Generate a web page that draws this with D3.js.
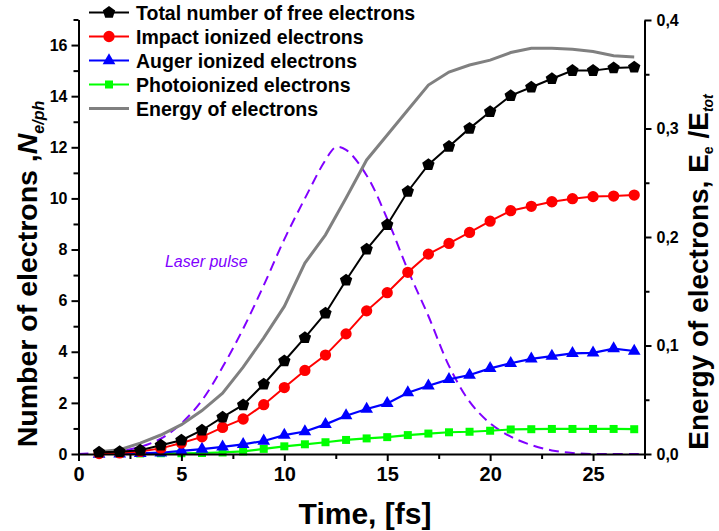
<!DOCTYPE html>
<html>
<head>
<meta charset="utf-8">
<script src="https://cdn.jsdelivr.net/npm/d3@7"></script>
<style>
  body { margin: 0; background: #fff; }
  text { font-family: "Liberation Sans", Arial, sans-serif; }
</style>
</head>
<body>
<svg id="chart" width="719" height="531"></svg>
<script>
// Time axis of the simulation, fs
const time = d3.range(1, 28);

// Electron counts per photon (left axis)
const totalElectrons  = [0.07,0.09,0.15,0.34,0.54,0.93,1.44,1.92,2.73,3.64,4.55,5.51,6.80,8.01,8.97,10.27,11.32,12.03,12.74,13.39,14.02,14.35,14.68,15.00,15.00,15.10,15.13];
const impactElectrons = [0.02,0.04,0.10,0.22,0.43,0.67,1.04,1.37,1.93,2.60,3.27,3.87,4.70,5.60,6.31,7.11,7.82,8.24,8.67,9.11,9.52,9.69,9.87,9.99,10.07,10.09,10.13];
const augerElectrons  = [0.00,0.01,0.03,0.05,0.12,0.19,0.28,0.38,0.51,0.74,0.88,1.16,1.50,1.76,1.98,2.40,2.67,2.92,3.09,3.35,3.55,3.72,3.83,3.94,3.96,4.12,4.03];
const photoElectrons  = [0.00,0.01,0.02,0.03,0.03,0.04,0.06,0.10,0.20,0.30,0.38,0.46,0.55,0.61,0.66,0.74,0.80,0.85,0.87,0.91,0.96,0.97,0.98,0.98,0.98,0.98,0.97];

// Relative electron energy E_e/E_tot (right axis)
const electronEnergy  = [0.002,0.004,0.010,0.0175,0.027,0.040,0.056,0.080,0.107,0.136,0.176,0.202,0.236,0.271,0.294,0.317,0.340,0.352,0.3585,0.363,0.370,0.374,0.374,0.373,0.371,0.367,0.366];

// Laser pulse envelope, drawn in left-axis units
const pulseTime  = [0,1,2,3,4,5,6,7,8,9,10,11,12,12.5,13,14,15,16,17,18,19,20,21,22,23,24,25,26,27,27.5];
const pulseValue = [0.0,0.05,0.12,0.28,0.6,1.2,2.1,3.4,4.9,6.6,8.4,10.0,11.5,12.0,11.9,10.9,9.2,7.2,5.4,3.45,2.05,1.2,0.68,0.35,0.14,0.04,0.0,0.0,0.0,0.0];

// Axis ticks
const xTicks = [0,5,10,15,20,25];
const xMinor = [2.5,7.5,12.5,17.5,22.5,27.5];
const yLeftTicks = [0,2,4,6,8,10,12,14,16];
const yLeftMinor = [1,3,5,7,9,11,13,15,17];
const yRightTicks = [0,0.1,0.2,0.3,0.4];
const yRightMinor = [0.05,0.15,0.25,0.35];

const legendLabels = ["Total number of free electrons","Impact ionized electrons","Auger ionized electrons","Photoionized electrons","Energy of electrons"];

const svg = d3.select("#chart");

const x  = d3.scaleLinear().domain([0, 27.5]).range([78.5, 644.5]);
const yL = d3.scaleLinear().domain([0, 17]).range([454, 19.5]);
const yR = d3.scaleLinear().domain([0, 0.4]).range([454, 20]);

// Marker shapes
function pentagon(r) {
  const pts = d3.range(5).map(i => {
    const a = -Math.PI / 2 + i * 2 * Math.PI / 5;
    return [r * Math.cos(a), r * Math.sin(a)];
  });
  return "M" + pts.map(p => p.join(",")).join("L") + "Z";
}
const shapes = {
  pentagon: pentagon(6.5),
  circle: d3.symbol(d3.symbolCircle, 100)(),
  triangle: d3.symbol(d3.symbolTriangle, 70)(),
  square: d3.symbol(d3.symbolSquare, 64)()
};

const series = [
  { values: totalElectrons,  color: "#000000", shape: "pentagon", width: 2 },
  { values: impactElectrons, color: "#ff0000", shape: "circle",   width: 2 },
  { values: augerElectrons,  color: "#0000ff", shape: "triangle", width: 2.2 },
  { values: photoElectrons,  color: "#00ff00", shape: "square",   width: 2.2 }
];

// Laser pulse (dashed)
const pulseLine = d3.line().x(d => x(d[0])).y(d => yL(d[1])).curve(d3.curveCatmullRom);
svg.append("path")
  .datum(d3.zip(pulseTime, pulseValue))
  .attr("d", pulseLine)
  .attr("fill", "none")
  .attr("stroke", "#8000ff")
  .attr("stroke-width", 2)
  .attr("stroke-dasharray", "10,6");

svg.append("text")
  .attr("x", x(4.2)).attr("y", yL(7.3))
  .attr("font-size", 16).attr("font-style", "italic")
  .attr("fill", "#8000ff")
  .text("Laser pulse");

// Energy of electrons (right axis)
const energyLine = d3.line().x((d, i) => x(time[i])).y(d => yR(d));
svg.append("path")
  .datum(electronEnergy)
  .attr("d", energyLine)
  .attr("fill", "none")
  .attr("stroke", "#808080")
  .attr("stroke-width", 3);

// Electron count series with markers
const countLine = d3.line().x((d, i) => x(time[i])).y(d => yL(d));
series.slice().reverse().forEach(s => {
  svg.append("path")
    .datum(s.values)
    .attr("d", countLine)
    .attr("fill", "none")
    .attr("stroke", s.color)
    .attr("stroke-width", s.width);
  svg.append("g").selectAll("path")
    .data(s.values)
    .join("path")
    .attr("d", shapes[s.shape])
    .attr("transform", (d, i) => `translate(${x(time[i])},${yL(d)})`)
    .attr("fill", s.color);
});

// Axes
function styleAxis(g) {
  g.select(".domain").attr("stroke", "#000").attr("stroke-width", 2);
  g.selectAll(".tick line").attr("stroke", "#000").attr("stroke-width", 2);
  g.selectAll(".tick text").attr("font-weight", "bold").attr("fill", "#000");
}

const xAxis = svg.append("g").attr("transform", "translate(0,454)")
  .call(d3.axisBottom(x).tickValues(xTicks).tickSize(7).tickPadding(6).tickSizeOuter(0));
styleAxis(xAxis);
xAxis.selectAll(".tick text").attr("font-size", 20).attr("font-family", "'Liberation Sans', Arial, sans-serif");
svg.append("g").attr("transform", "translate(0,454)")
  .call(d3.axisBottom(x).tickValues(xMinor).tickSize(5).tickFormat("").tickSizeOuter(0))
  .call(styleAxis).select(".domain").remove();

const yAxisL = svg.append("g").attr("transform", "translate(78.5,0)")
  .call(d3.axisLeft(yL).tickValues(yLeftTicks).tickSize(7).tickPadding(4).tickSizeOuter(0));
styleAxis(yAxisL);
yAxisL.selectAll(".tick text").attr("font-size", 16).attr("font-family", "'Liberation Sans', Arial, sans-serif");
svg.append("g").attr("transform", "translate(78.5,0)")
  .call(d3.axisLeft(yL).tickValues(yLeftMinor).tickSize(5).tickFormat("").tickSizeOuter(0))
  .call(styleAxis).select(".domain").remove();

const commaFmt = d => d3.format(".1f")(d).replace(".", ",");
const yAxisR = svg.append("g").attr("transform", "translate(644.5,0)")
  .call(d3.axisRight(yR).tickValues(yRightTicks).tickFormat(commaFmt).tickSize(7).tickPadding(5).tickSizeOuter(0));
styleAxis(yAxisR);
yAxisR.selectAll(".tick text").attr("font-size", 16).attr("font-family", "'Liberation Sans', Arial, sans-serif");
svg.append("g").attr("transform", "translate(644.5,0)")
  .call(d3.axisRight(yR).tickValues(yRightMinor).tickSize(5).tickFormat("").tickSizeOuter(0))
  .call(styleAxis).select(".domain").remove();

// Axis titles
svg.append("text")
  .attr("x", 365).attr("y", 524)
  .attr("text-anchor", "middle")
  .attr("font-size", 30).attr("font-weight", "bold")
  .text("Time, [fs]");

const leftTitle = svg.append("text")
  .attr("transform", "translate(37,274) rotate(-90)")
  .attr("text-anchor", "middle")
  .attr("font-size", 28.5).attr("font-weight", "bold");
leftTitle.append("tspan").text("Number of electrons ,");
leftTitle.append("tspan").attr("font-style", "italic").text("N");
leftTitle.append("tspan").attr("font-style", "italic").attr("font-size", 16).attr("dy", 7).text("e/ph");

const rightTitle = svg.append("text")
  .attr("transform", "translate(708,272) rotate(-90)")
  .attr("text-anchor", "middle")
  .attr("font-size", 28).attr("font-weight", "bold");
rightTitle.append("tspan").text("Energy of electrons, E");
rightTitle.append("tspan").attr("font-size", 14).attr("dy", 5).text("e");
rightTitle.append("tspan").attr("dy", -5).text(" /E");
rightTitle.append("tspan").attr("font-size", 14).attr("font-style", "italic").attr("dy", 5).text("tot");

// Legend
const legendColors = ["#000000","#ff0000","#0000ff","#00ff00","#808080"];
const legendShapes = ["pentagon","circle","triangle","square",null];
const legend = svg.append("g");
legendLabels.forEach((label, i) => {
  const cy = 12.5 + i * 24;
  legend.append("line")
    .attr("x1", 89).attr("x2", 129).attr("y1", cy).attr("y2", cy)
    .attr("stroke", legendColors[i]).attr("stroke-width", i === 4 ? 3 : 2);
  if (legendShapes[i]) {
    legend.append("path")
      .attr("d", shapes[legendShapes[i]])
      .attr("transform", `translate(109,${cy})`)
      .attr("fill", legendColors[i]);
  }
  legend.append("text")
    .attr("x", 136).attr("y", cy + 7)
    .attr("font-size", 19.5).attr("font-weight", "bold")
    .text(label);
});
</script>
</body>
</html>
